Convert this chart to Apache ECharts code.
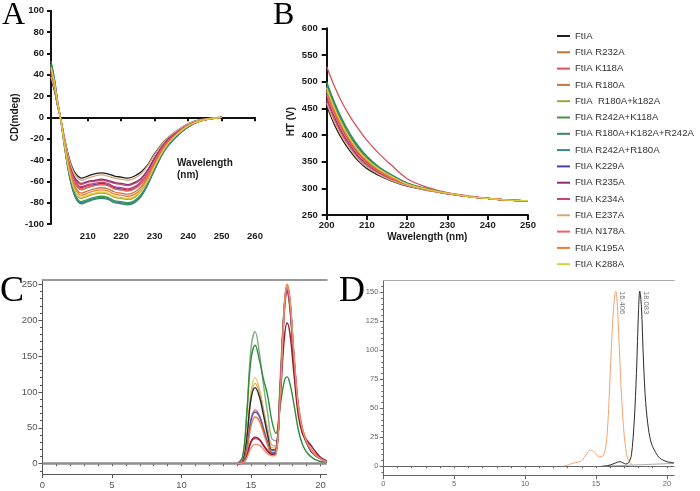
<!DOCTYPE html>
<html><head><meta charset="utf-8">
<script src="https://cdn.jsdelivr.net/npm/echarts@6/dist/echarts.min.js"></script>
<style>html,body{margin:0;padding:0;background:#fff}#c{width:700px;height:491px}</style>
</head><body><div id="c"></div>
<script>
// ---------- names & colours (legend of A/B) ----------
const names = ['FtIA','FtIA R232A','FtIA K118A','FtIA R180A','FtIA  R180A+k182A','FtIA R242A+K118A','FtIA R180A+K182A+R242A','FtIA R242A+R180A','FtIA K229A','FtIA R235A','FtIA K234A','FtIA E237A','FtIA N178A','FtIA K195A','FtIA K288A'];
const colors = ['#1f1f1f','#b8782a','#d9505a','#c8763a','#a8a238','#3e9a3e','#2e8a5e','#3d8090','#4444a8','#8c2a78','#c8407c','#d8a878','#f26060','#f47a2e','#d8d040'];

// ---------- Panel A : CD spectra ----------
const cdX = [199,200,201,202,203,204,205,206,207,208,210,212,214,216,218,220,222,224,226,228,230,233,236,240,244,250];
const cd_FtIA   = [36,25,10,-3,-19,-33,-44,-51,-55,-57,-55,-53,-52,-53,-55,-56,-57,-55,-51,-44,-34,-22,-14,-6,-2,0];
const cd_R232A  = [45,32,13,-3,-22,-39,-52,-61,-66,-68,-66,-64,-63,-64,-67,-68,-69,-67,-62,-53,-41,-26,-17,-8,-3,0];
const cd_K118A  = [42,29,12,-3,-21,-37,-49,-57,-61,-63,-61,-60,-59,-60,-62,-63,-64,-62,-58,-49,-38,-24,-15,-7,-3,0];
const cd_R180A  = [46,32,13,-3,-23,-41,-55,-64,-69,-71,-69,-67,-66,-67,-70,-71,-72,-70,-65,-55,-43,-27,-17,-8,-3,0];
const cd_R180K182 = [48,34,13,-4,-25,-44,-59,-68,-74,-76,-74,-72,-71,-72,-75,-76,-77,-75,-69,-59,-46,-29,-18,-8,-3,0];
const cd_R242K118 = [50,35,14,-4,-26,-46,-61,-71,-77,-79,-77,-75,-74,-75,-78,-79,-80,-78,-72,-62,-48,-30,-19,-9,-3,0];
const cd_Triple = [53,37,15,-4,-27,-47,-62,-73,-79,-81,-79,-77,-76,-77,-80,-81,-82,-80,-74,-63,-49,-31,-20,-9,-3,0];
const cd_R242R180 = [50,35,14,-4,-26,-46,-62,-72,-78,-80,-78,-76,-75,-76,-79,-80,-81,-79,-73,-62,-49,-31,-19,-9,-3,0];
const cd_K229A  = [44,31,12,-3,-22,-38,-51,-59,-64,-66,-64,-63,-62,-63,-66,-67,-68,-66,-61,-52,-41,-26,-16,-7,-3,0];
const cd_R235A  = [40,28,11,-3,-20,-36,-48,-56,-60,-62,-60,-59,-58,-59,-61,-62,-63,-61,-57,-49,-38,-24,-15,-7,-3,0];
const cd_K234A  = [42,29,12,-3,-21,-38,-50,-58,-63,-65,-63,-62,-61,-62,-65,-66,-67,-65,-60,-52,-40,-25,-16,-7,-3,0];
const cd_E237A  = [38,27,11,-3,-19,-34,-45,-53,-57,-59,-57,-55,-54,-55,-57,-58,-59,-57,-53,-45,-35,-22,-14,-6,-2,0];
const cd_N178A  = [44,31,12,-3,-22,-39,-52,-60,-65,-67,-65,-64,-63,-64,-67,-68,-69,-67,-62,-53,-41,-26,-17,-8,-3,0];
const cd_K195A  = [46,32,13,-4,-24,-42,-56,-66,-71,-73,-71,-69,-68,-69,-72,-73,-74,-72,-67,-57,-44,-28,-18,-8,-3,0];
const cd_K288A  = [47,33,13,-4,-25,-44,-58,-68,-73,-75,-73,-71,-70,-71,-74,-75,-76,-74,-68,-59,-46,-29,-18,-8,-3,0];
const cdSeries = [cd_FtIA,cd_R232A,cd_K118A,cd_R180A,cd_R180K182,cd_R242K118,cd_Triple,cd_R242R180,cd_K229A,cd_R235A,cd_K234A,cd_E237A,cd_N178A,cd_K195A,cd_K288A];
const cdXTicks = [210,220,230,240,250,260];

// ---------- Panel B : HT voltage ----------
const htX = [200,202,204,206,208,210,213,216,220,225,230,235,240,245,250];
const ht_FtIA   = [455,418,390,368,350,337,324,314,304,296,290,285,281,278,277];
const ht_R232A  = [480,441,411,386,366,350,333,321,307,298,291,285,281,278,277];
const ht_K118A  = [528,490,458,432,410,390,365,344,318,302,292,286,281,278,277];
const ht_R180A  = [485,446,415,389,369,352,335,322,308,298,291,285,281,278,277];
const ht_R180K182 = [490,451,419,393,372,355,336,323,309,298,291,285,281,278,277];
const ht_R242K118 = [500,460,427,400,378,360,340,326,310,299,291,285,281,278,277];
const ht_Triple = [497,457,424,398,376,358,339,325,310,299,291,285,281,278,277];
const ht_R242R180 = [492,452,420,394,373,356,337,324,309,298,291,285,281,278,277];
const ht_K229A  = [478,439,409,384,364,349,332,320,307,298,290,285,281,278,277];
const ht_R235A  = [470,432,402,379,359,345,329,318,306,297,290,285,281,278,277];
const ht_K234A  = [465,427,398,375,356,342,328,317,305,297,290,285,281,278,277];
const ht_E237A  = [460,423,394,372,353,340,326,315,305,296,290,285,281,278,277];
const ht_N178A  = [475,437,406,382,362,347,331,319,307,297,290,285,281,278,277];
const ht_K195A  = [482,443,412,387,367,351,334,321,308,298,291,285,281,278,277];
const ht_K288A  = [488,449,417,391,370,354,336,323,308,298,291,285,281,278,277];
const htSeries = [ht_FtIA,ht_R232A,ht_K118A,ht_R180A,ht_R180K182,ht_R242K118,ht_Triple,ht_R242R180,ht_K229A,ht_R235A,ht_K234A,ht_E237A,ht_N178A,ht_K195A,ht_K288A];

// ---------- Panel C : SEC profiles ----------
const secX = [14.0,14.4,14.7,15.0,15.3,15.6,15.9,16.2,16.5,16.8,17.1,17.4,17.6,17.8,18.1,18.4,18.7,19.0,19.3,19.6,20.0,20.45];
const sec_lightGreen = [0,8,70,160,184,155,110,70,35,32,120,220,240,218,140,78,46,30,19,12,7,3];
const sec_darkGreen  = [0,10,70,145,165,145,118,95,60,42,80,115,121,112,82,48,27,16,10,6,3,2];
const sec_yellow     = [0,4,40,100,120,105,75,45,22,22,110,220,245,225,145,80,48,31,20,13,7,3];
const sec_tan        = [0,3,35,92,112,100,75,48,26,25,105,210,235,215,140,76,45,30,19,12,7,3];
const sec_black      = [0,3,35,90,106,94,68,40,19,20,105,215,240,220,140,74,44,29,18,12,7,3];
const sec_pink       = [0,2,22,62,75,68,50,30,16,17,100,218,245,226,146,80,46,31,20,13,7,3];
const sec_blue       = [0,2,20,60,72,66,48,29,15,17,102,220,248,228,148,82,47,31,20,13,7,3];
const sec_orange     = [0,1,16,52,65,60,43,26,13,14,98,220,250,232,152,84,50,33,21,14,8,4];
const sec_magenta    = [0,1,10,30,35,33,25,17,13,15,95,212,242,225,146,78,46,31,20,13,7,3];
const sec_maroon     = [0,1,10,31,37,34,26,18,13,15,88,175,196,182,124,68,42,33,26,18,9,4];
const sec_salmon     = [0,1,8,22,27,26,20,14,11,13,92,215,248,230,150,80,48,31,20,13,7,3];
const secSeries = [sec_lightGreen,sec_darkGreen,sec_yellow,sec_tan,sec_black,sec_pink,sec_blue,sec_orange,sec_magenta,sec_maroon,sec_salmon];
const secColors = ['#7fae7f','#2f8a3a','#e8c450','#d4a878','#2a2a2a','#e07a8a','#4a55c0','#f07a30','#c03a80','#8e1a36','#f0906a'];
const cYLabels = [0,50,100,150,200,250];
const cYMinor = [-10,0,10,20,30,40,50,60,70,80,90,100,110,120,130,140,150,160,170,180,190,200,210,220,230,240,250];
const cXLabels = [0,5,10,15,20];
const cXMinor = [0,1,2,3,4,5,6,7,8,9,10,11,12,13,14,15,16,17,18,19,20];

// ---------- Panel D : two SEC peaks ----------
const dOrangeX = [12.7,13.0,13.3,13.7,14.0,14.3,14.6,14.9,15.2,15.5,15.7,15.85,16.0,16.2,16.35,16.406,16.5,16.65,16.8,17.0,17.2,17.4,17.6];
const dOrangeY = [0,1,2.5,3.5,5,10,14,12,8,9,18,40,80,130,150,151,140,100,60,25,8,3,1];
const dBlackX = [15.4,15.8,16.2,16.5,16.7,16.9,17.1,17.3,17.5,17.7,17.85,18.0,18.083,18.2,18.35,18.5,18.7,18.9,19.2,19.5,20.0,20.5];
const dBlackY = [0,0.5,2,3.5,4,3,2,3,10,40,80,135,151,138,90,55,32,20,12,7,4,3];
const dBaseX = [15.4,20.5];
const dBaseY = [0,2.5];
const dPeakX = [16.406,18.083];
const dPeakY = [151,151];
const dPeakLabels = ['16.406','18.083'];
const dYLabels = [0,25,50,75,100,125,150];
const dYMinor = [-5,0,5,10,15,20,25,30,35,40,45,50,55,60,65,70,75,80,85,90,95,100,105,110,115,120,125,130,135,140,145,150,155];
const dXLabels = [0,5,10,15,20];
const dXMinor = [0,1,2,3,4,5,6,7,8,9,10,11,12,13,14,15,16,17,18,19,20];

const SANS = 'Liberation Sans, Arial, sans-serif';
const chart = echarts.init(document.getElementById('c'), null, {renderer:'canvas'});
const zip = (xs, ys) => xs.map((x,i)=>[x, ys[i]]);

const boldAxis = (extra) => Object.assign({
  axisLine:{show:true, onZero:false, lineStyle:{color:'#111', width:2}},
  axisTick:{show:true, inside:false, length:4, lineStyle:{color:'#111', width:2}},
  axisLabel:{color:'#1a1a1a', fontFamily:SANS, fontWeight:'bold', fontSize:9.5},
  splitLine:{show:false}
}, extra);

const thinAxis = (color, fs, extra) => Object.assign({
  axisLine:{show:true, onZero:false, lineStyle:{color:color, width:1}},
  axisTick:{show:true, inside:false, length:4, lineStyle:{color:color, width:1}},
  axisLabel:{color:'#555', fontFamily:SANS, fontSize:fs},
  splitLine:{show:false}
}, extra);

const series = [];
names.forEach((n,i)=>{
  series.push({name:n, type:'line', xAxisIndex:0, yAxisIndex:0, data:zip(cdX, cdSeries[i]), smooth:0.4,
    showSymbol:false, lineStyle:{width:1.3, color:colors[i]}, itemStyle:{color:colors[i]}, z:3+i});
});
names.forEach((n,i)=>{
  series.push({name:n, type:'line', xAxisIndex:1, yAxisIndex:1, data:zip(htX, htSeries[i]), smooth:0.4,
    showSymbol:false, lineStyle:{width:1.3, color:colors[i]}, itemStyle:{color:colors[i]}, z:3+i});
});
secSeries.forEach((arr,i)=>{
  const s = {name:'sec'+i, type:'line', xAxisIndex:2, yAxisIndex:2, data:zip(secX, arr), smooth:0.4,
    showSymbol:false, lineStyle:{width:1.4, color:secColors[i]}, itemStyle:{color:secColors[i]}, z:3+i};
  if (i===0) s.markLine = {silent:true, symbol:'none', label:{show:false}, data:[{yAxis:0}],
    lineStyle:{color:'#8c8c8c', width:2.5, type:'solid'}, animation:false};
  series.push(s);
});
series.push({name:'dBase', type:'line', xAxisIndex:5, yAxisIndex:4, data:zip(dBaseX,dBaseY), showSymbol:false,
  lineStyle:{width:1, color:'#aaaaaa'}, z:2,
  markLine:{silent:true, symbol:'none', label:{show:false}, data:[{yAxis:0}], lineStyle:{color:'#666', width:1, type:'solid'}, animation:false}});
series.push({name:'dOrange', type:'line', xAxisIndex:5, yAxisIndex:4, smooth:0.3, showSymbol:false,
  data:zip(dOrangeX,dOrangeY), lineStyle:{width:1, color:'#f5a370'}, itemStyle:{color:'#f5a370'}, z:4});
series.push({name:'dBlack', type:'line', xAxisIndex:5, yAxisIndex:4, smooth:0.3, showSymbol:false,
  data:zip(dBlackX,dBlackY), lineStyle:{width:1, color:'#2a2a2a'}, itemStyle:{color:'#2a2a2a'}, z:4});
series.push({name:'dPeaks', type:'scatter', xAxisIndex:5, yAxisIndex:4, symbolSize:0.1, itemStyle:{color:'rgba(0,0,0,0)'},
  data:zip(dPeakX,dPeakY), z:6,
  label:{show:true, formatter:(p)=>dPeakLabels[p.dataIndex], position:'right', distance:6,
    rotate:-90, align:'left', verticalAlign:'middle', fontSize:7.5, color:'#555', fontFamily:SANS}});

const option = {
  animation:false,
  backgroundColor:'#fff',
  grid:[
    {left:51, top:10.7, width:204, height:213.3, outerBoundsMode:'none', containLabel:false},
    {left:326.7, top:28.3, width:201.3, height:186.7, outerBoundsMode:'none', containLabel:false},
    {left:42.5, top:279.3, width:284.2, height:194.7, outerBoundsMode:'none', containLabel:false},
    {left:383.3, top:280.7, width:291, height:195, outerBoundsMode:'none', containLabel:false}
  ],
  legend:{show:true, data:names, orient:'vertical', left:557, top:30, padding:0, icon:'rect', itemWidth:13, itemHeight:2,
    itemGap:4.3, textStyle:{fontFamily:SANS, fontSize:9.6, color:'#333', lineHeight:12}, selectedMode:false},
  xAxis:[
    boldAxis({gridIndex:0, type:'value', min:199, max:260,
      axisLine:{show:true, onZero:true, lineStyle:{color:'#111', width:2}},
      axisTick:{show:true, length:4, customValues:cdXTicks, lineStyle:{color:'#111', width:2}},
      axisLabel:{customValues:cdXTicks, color:'#1a1a1a', fontFamily:SANS, fontWeight:'bold', fontSize:9.5, margin:7}}),
    boldAxis({gridIndex:1, type:'value', min:200, max:250, interval:10, position:'bottom',
      axisTick:{show:true, length:5, lineStyle:{color:'#111', width:2}},
      axisLabel:{color:'#1a1a1a', fontFamily:SANS, fontWeight:'bold', fontSize:9.5, margin:5},
      name:'Wavelength (nm)', nameLocation:'middle', nameGap:17,
      nameTextStyle:{fontFamily:SANS, fontWeight:'bold', fontSize:10, color:'#1a1a1a'}}),
    thinAxis('#555', 9.5, {gridIndex:2, type:'value', min:0, max:20.45, position:'bottom',
      axisTick:{show:true, length:4, customValues:cXLabels, lineStyle:{color:'#555'}},
      axisLabel:{customValues:cXLabels, color:'#555', fontFamily:SANS, fontSize:9.5, margin:6}}),
    thinAxis('#555', 9.5, {gridIndex:2, type:'value', min:0, max:20.45, position:'bottom',
      axisLine:{show:false}, axisTick:{show:true, length:2.5, customValues:cXMinor, lineStyle:{color:'#555'}},
      axisLabel:{show:false}}),
    {gridIndex:2, type:'value', min:0, max:20.45, position:'top', axisLine:{show:true, onZero:false, lineStyle:{color:'#999', width:2}},
      axisTick:{show:false}, axisLabel:{show:false}, splitLine:{show:false}},
    thinAxis('#666', 7.5, {gridIndex:3, type:'value', min:0, max:20.52, position:'bottom',
      axisTick:{show:true, length:3.5, customValues:dXLabels, lineStyle:{color:'#666'}},
      axisLabel:{customValues:dXLabels, color:'#666', fontFamily:SANS, fontSize:7.5, margin:4}}),
    thinAxis('#666', 7.5, {gridIndex:3, type:'value', min:0, max:20.52, position:'bottom',
      axisLine:{show:false}, axisTick:{show:true, length:2, customValues:dXMinor, lineStyle:{color:'#666'}},
      axisLabel:{show:false}}),
    {gridIndex:3, type:'value', min:0, max:20.52, position:'top', axisLine:{show:true, onZero:false, lineStyle:{color:'#aaa', width:1}},
      axisTick:{show:false}, axisLabel:{show:false}, splitLine:{show:false}}
  ],
  yAxis:[
    boldAxis({gridIndex:0, type:'value', min:-100, max:100, interval:20,
      axisLabel:{color:'#1a1a1a', fontFamily:SANS, fontWeight:'bold', fontSize:9.5, margin:7},
      name:'CD(mdeg)', nameLocation:'middle', nameGap:31,
      nameTextStyle:{fontFamily:SANS, fontWeight:'bold', fontSize:10, color:'#1a1a1a'}}),
    boldAxis({gridIndex:1, type:'value', min:250, max:600, interval:50,
      axisTick:{show:true, length:5, lineStyle:{color:'#111', width:2}},
      axisLabel:{color:'#1a1a1a', fontFamily:SANS, fontWeight:'bold', fontSize:9.5, margin:9},
      name:'HT (V)', nameLocation:'middle', nameGap:30,
      nameTextStyle:{fontFamily:SANS, fontWeight:'bold', fontSize:10, color:'#1a1a1a'}}),
    thinAxis('#555', 9.5, {gridIndex:2, type:'value', min:-14.35, max:257, position:'left',
      axisTick:{show:true, length:4, customValues:cYLabels, lineStyle:{color:'#555'}},
      axisLabel:{customValues:cYLabels, color:'#555', fontFamily:SANS, fontSize:9.5, margin:5}}),
    thinAxis('#555', 9.5, {gridIndex:2, type:'value', min:-14.35, max:257, position:'left',
      axisLine:{show:false}, axisTick:{show:true, length:2.5, customValues:cYMinor, lineStyle:{color:'#555'}},
      axisLabel:{show:false}}),
    thinAxis('#666', 7.5, {gridIndex:3, type:'value', min:-8.1, max:160, position:'left',
      axisTick:{show:true, length:3.5, customValues:dYLabels, lineStyle:{color:'#666'}},
      axisLabel:{customValues:dYLabels, color:'#666', fontFamily:SANS, fontSize:7.5, margin:5}}),
    thinAxis('#666', 7.5, {gridIndex:3, type:'value', min:-8.1, max:160, position:'left',
      axisLine:{show:false}, axisTick:{show:true, length:2, customValues:dYMinor, lineStyle:{color:'#666'}},
      axisLabel:{show:false}})
  ],
  graphic:[
    {type:'text', left:2, top:0, style:{text:'A', font:'32px "Liberation Serif", "Times New Roman", serif', fill:'#000'}},
    {type:'text', left:273, top:0, style:{text:'B', font:'32px "Liberation Serif", "Times New Roman", serif', fill:'#000'}},
    {type:'text', left:0, top:274, style:{text:'C', font:'36px "Liberation Serif", "Times New Roman", serif', fill:'#000'}},
    {type:'text', left:339, top:274, style:{text:'D', font:'36px "Liberation Serif", "Times New Roman", serif', fill:'#000'}},
    {type:'text', left:177, top:157, style:{text:'Wavelength\n(nm)', font:'bold 10px "Liberation Sans", Arial, sans-serif', fill:'#1a1a1a', lineHeight:12}}
  ],
  series:series
};
chart.setOption(option);
</script>
</body></html>
